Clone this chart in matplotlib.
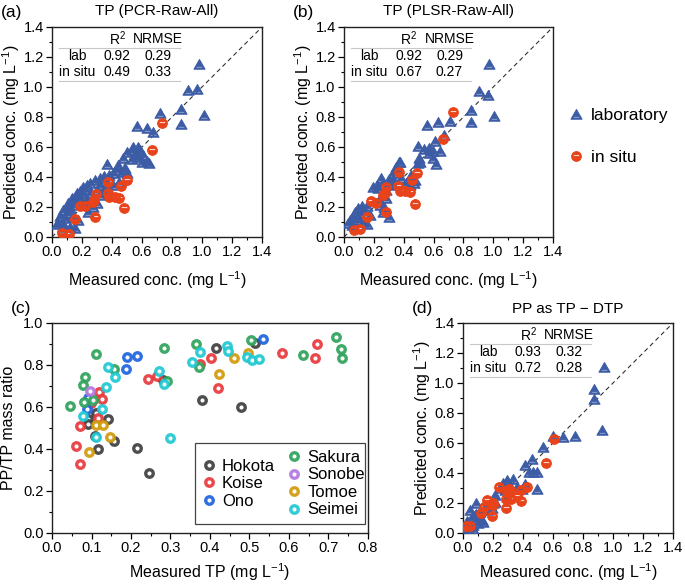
import matplotlib
matplotlib.use("Agg")
import matplotlib.pyplot as plt
from matplotlib.path import Path
from matplotlib.lines import Line2D
from matplotlib.patches import Rectangle
import numpy as np

plt.rcParams['font.family'] = ['Liberation Sans', 'DejaVu Sans']
plt.rcParams['mathtext.fontset'] = 'custom'
plt.rcParams['mathtext.rm'] = 'Liberation Sans'
plt.rcParams['mathtext.it'] = 'Liberation Sans:italic'
plt.rcParams['mathtext.bf'] = 'Liberation Sans:bold'

# ---------------- data ----------------
a_lab_x = [0.982, 0.909, 0.964, 0.858, 1.013, 0.858, 0.72, 0.564, 0.636, 0.671,
           0.498, 0.542, 0.571, 0.587, 0.553, 0.609, 0.631, 0.647, 0.598, 0.564,
           0.531, 0.487, 0.498, 0.464, 0.438, 0.409, 0.369, 0.382, 0.349, 0.32,
           0.287, 0.253, 0.236, 0.209, 0.187, 0.164, 0.153, 0.131, 0.109, 0.098,
           0.076, 0.053, 0.042, 0.036, 0.076, 0.12, 0.153, 0.242, 0.276, 0.298,
           0.32, 0.364, 0.409, 0.449, 0.342, 0.298, 0.253, 0.231, 0.187, 0.142,
           0.12, 0.098, 0.131, 0.176, 0.209, 0.364, 0.32, 0.209, 0.164, 0.087,
           0.064, 0.431, 0.476, 0.531, 0.573]
a_lab_y = [1.151, 0.98, 0.984, 0.851, 0.813, 0.751, 0.829, 0.74, 0.729, 0.702,
           0.569, 0.602, 0.602, 0.58, 0.553, 0.547, 0.509, 0.491, 0.502, 0.536,
           0.518, 0.458, 0.424, 0.436, 0.48, 0.424, 0.484, 0.413, 0.407, 0.391,
           0.38, 0.362, 0.344, 0.336, 0.309, 0.296, 0.269, 0.258, 0.224, 0.202,
           0.18, 0.14, 0.102, 0.087, 0.069, 0.069, 0.062, 0.164, 0.202, 0.224,
           0.28, 0.336, 0.347, 0.369, 0.302, 0.313, 0.291, 0.247, 0.258, 0.213,
           0.191, 0.158, 0.136, 0.113, 0.224, 0.358, 0.347, 0.291, 0.247, 0.124,
           0.102, 0.447, 0.524, 0.58, 0.547]
a_situ_x = [0.069, 0.113, 0.155, 0.187, 0.218, 0.284, 0.271, 0.282, 0.29, 0.371,
            0.371, 0.382, 0.418, 0.445, 0.46, 0.498, 0.48, 0.664, 0.736]
a_situ_y = [0.025, 0.02, 0.12, 0.208, 0.208, 0.133, 0.235, 0.247, 0.287, 0.369,
            0.295, 0.269, 0.265, 0.26, 0.34, 0.38, 0.191, 0.583, 0.762]

b_lab_x = [0.973, 0.907, 0.962, 0.851, 1.007, 0.851, 0.558, 0.629, 0.713, 0.669,
           0.607, 0.496, 0.536, 0.567, 0.596, 0.64, 0.567, 0.596, 0.613, 0.502,
           0.496, 0.367, 0.347, 0.302, 0.329, 0.251, 0.218, 0.196, 0.229, 0.284,
           0.258, 0.296, 0.329, 0.262, 0.284, 0.233, 0.238, 0.271, 0.258, 0.302,
           0.151, 0.118, 0.096, 0.073, 0.129, 0.107, 0.062, 0.04, 0.029, 0.051,
           0.084, 0.129, 0.151, 0.173, 0.096, 0.507, 0.418, 0.384, 0.451, 0.44,
           0.473, 0.469, 0.373, 0.351, 0.329]
b_lab_y = [1.156, 0.976, 0.947, 0.847, 0.807, 0.764, 0.747, 0.764, 0.776, 0.68,
           0.642, 0.607, 0.584, 0.596, 0.576, 0.576, 0.558, 0.524, 0.484, 0.524,
           0.491, 0.502, 0.469, 0.384, 0.384, 0.391, 0.347, 0.336, 0.324, 0.313,
           0.358, 0.353, 0.347, 0.28, 0.258, 0.247, 0.213, 0.202, 0.169, 0.131,
           0.207, 0.207, 0.191, 0.169, 0.18, 0.158, 0.136, 0.113, 0.091, 0.08,
           0.113, 0.102, 0.087, 0.147, 0.136, 0.502, 0.358, 0.391, 0.413, 0.347,
           0.38, 0.362, 0.502, 0.458, 0.424]
b_situ_x = [0.067, 0.107, 0.151, 0.182, 0.212, 0.279, 0.258, 0.273, 0.282, 0.368,
            0.365, 0.373, 0.409, 0.44, 0.455, 0.491, 0.473, 0.66, 0.727]
b_situ_y = [0.049, 0.055, 0.136, 0.24, 0.23, 0.169, 0.28, 0.291, 0.333, 0.436,
            0.338, 0.305, 0.307, 0.3, 0.378, 0.43, 0.222, 0.652, 0.836]

d_lab_x = [0.94, 0.876, 0.876, 0.929, 0.602, 0.669, 0.747, 0.536, 0.458, 0.413,
           0.44, 0.464, 0.496, 0.491, 0.413, 0.291, 0.33, 0.307, 0.28, 0.291,
           0.391, 0.247, 0.213, 0.202, 0.191, 0.087, 0.047, 0.058, 0.085, 0.124,
           0.024, 0.069, 0.036, 0.113, 0.147, 0.169, 0.269, 0.358, 0.102, 0.01,
           0.08, 0.136, 0.047, 0.069, 0.213]
d_lab_y = [1.109, 0.958, 0.891, 0.687, 0.649, 0.642, 0.649, 0.571, 0.495, 0.453,
           0.407, 0.409, 0.409, 0.293, 0.324, 0.353, 0.362, 0.32, 0.287, 0.242,
           0.291, 0.298, 0.253, 0.2, 0.164, 0.2, 0.155, 0.109, 0.125, 0.087,
           0.08, 0.053, 0.031, 0.142, 0.176, 0.153, 0.331, 0.309, 0.064, 0.02,
           0.12, 0.076, 0.047, 0.024, 0.209]
d_situ_x = [0.609, 0.553, 0.424, 0.384, 0.387, 0.362, 0.32, 0.291, 0.287, 0.32,
            0.287, 0.242, 0.202, 0.196, 0.158, 0.142, 0.118, 0.047, 0.018, 0.309,
            0.197]
d_situ_y = [0.624, 0.469, 0.309, 0.287, 0.212, 0.247, 0.28, 0.276, 0.227, 0.224,
            0.169, 0.307, 0.202, 0.116, 0.22, 0.176, 0.136, 0.049, 0.049, 0.291,
            0.185]

stats_a = [["lab", "0.92", "0.29"], ["in situ", "0.49", "0.33"]]
stats_b = [["lab", "0.92", "0.29"], ["in situ", "0.67", "0.27"]]
stats_d = [["lab", "0.93", "0.32"], ["in situ", "0.72", "0.28"]]

sites = ["Hokota", "Koise", "Ono", "Sakura", "Sonobe", "Tomoe", "Seimei"]
site_colors = ["#3f3f3f", "#e8383d", "#1e63de", "#2ea35a", "#b377e0", "#d19a0a", "#1fc8d2"]
c_x = {
    "Hokota": [0.246, 0.216, 0.156, 0.117, 0.109, 0.092, 0.09, 0.111, 0.143, 0.381, 0.414, 0.478, 0.282, 0.515],
    "Koise": [0.061, 0.071, 0.071, 0.118, 0.127, 0.116, 0.098, 0.242, 0.267, 0.375, 0.403, 0.419, 0.582, 0.666, 0.67],
    "Ono": [0.191, 0.216, 0.187, 0.089, 0.09, 0.535],
    "Sakura": [0.045, 0.111, 0.084, 0.079, 0.082, 0.103, 0.158, 0.283, 0.29, 0.365, 0.373, 0.503, 0.636, 0.718, 0.732, 0.733],
    "Sonobe": [0.096],
    "Tomoe": [0.093, 0.111, 0.128, 0.147, 0.424, 0.462, 0.497],
    "Seimei": [0.078, 0.112, 0.126, 0.137, 0.143, 0.159, 0.272, 0.284, 0.299, 0.354, 0.374, 0.443, 0.446, 0.494, 0.506, 0.523],
}
c_y = {
    "Hokota": [0.287, 0.407, 0.437, 0.4, 0.463, 0.545, 0.518, 0.57, 0.542, 0.634, 0.883, 0.602, 0.727, 0.903],
    "Koise": [0.414, 0.329, 0.51, 0.673, 0.636, 0.549, 0.617, 0.735, 0.748, 0.805, 0.835, 0.692, 0.856, 0.832, 0.9],
    "Ono": [0.84, 0.843, 0.78, 0.592, 0.641, 0.922],
    "Sakura": [0.605, 0.852, 0.741, 0.706, 0.625, 0.635, 0.781, 0.879, 0.723, 0.898, 0.79, 0.917, 0.848, 0.935, 0.876, 0.832],
    "Sonobe": [0.677],
    "Tomoe": [0.384, 0.514, 0.514, 0.456, 0.757, 0.832, 0.859],
    "Seimei": [0.558, 0.456, 0.589, 0.697, 0.789, 0.741, 0.771, 0.708, 0.451, 0.815, 0.862, 0.892, 0.867, 0.838, 0.822, 0.829],
}

# ---------------- styles ----------------
BLUE = "#3d5ca6"
RED = "#e8431a"

tri = Path([(-1, -0.85), (1, -0.85), (0, 0.9), (-1, -0.85)],
           [Path.MOVETO, Path.LINETO, Path.LINETO, Path.CLOSEPOLY])
tri_hole = Path([(-0.6, -0.66), (-0.6, -0.42), (0.6, -0.42), (0.6, -0.66), (-0.6, -0.66)],
                [Path.MOVETO, Path.LINETO, Path.LINETO, Path.LINETO, Path.CLOSEPOLY])
TRI_MARK = Path.make_compound_path(tri, tri_hole)
circ = Path.unit_circle()
circ_hole = Path([(-0.68, 0.05), (-0.68, 0.42), (0.68, 0.42), (0.68, 0.05), (-0.68, 0.05)],
                 [Path.MOVETO, Path.LINETO, Path.LINETO, Path.LINETO, Path.CLOSEPOLY])
CIRC_MARK = Path.make_compound_path(circ, circ_hole)

W, H = 685, 584
fig = plt.figure(figsize=(W / 100, H / 100), dpi=100)


def ax_at(l, t, w, h):
    return fig.add_axes([l / W, (H - t - h) / H, w / W, h / H])


def style_axes(ax, xmaj, xmin, ymaj, ymin):
    ax.set_xticks(xmaj)
    ax.set_xticks(xmin, minor=True)
    ax.set_yticks(ymaj)
    ax.set_yticks(ymin, minor=True)
    ax.tick_params(which='major', direction='out', length=4, width=0.9, labelsize=10.5, pad=2)
    ax.tick_params(which='minor', direction='out', length=2.2, width=0.8)
    for s in ax.spines.values():
        s.set_linewidth(1.0)
        s.set_color('#222222')


def draw_stats(ax, rows):
    xs = [0.12, 0.31, 0.505]
    fs = 10
    ax.text(xs[1], 0.943, "R$^2$", transform=ax.transAxes, ha='center', va='center', fontsize=fs)
    ax.text(xs[2], 0.943, "NRMSE", transform=ax.transAxes, ha='center', va='center', fontsize=fs)
    for i, r in enumerate(rows):
        yy = 0.862 - i * 0.078
        for j in range(3):
            ax.text(xs[j], yy, r[j], transform=ax.transAxes, ha='center', va='center', fontsize=fs)
    for yl in (0.902, 0.742):
        ax.plot([0.033, 0.61], [yl, yl], transform=ax.transAxes, color='#c8c8c8', lw=0.8)


def scatter_panel(ax, lx, ly, sx, sy, rows, title, label, tpad=9, xpad=7):
    ax.plot([0, 1.4], [0, 1.4], ls=(0, (4, 3)), color='#333333', lw=0.8, zorder=1)
    ax.plot(lx, ly, ls='none', marker=TRI_MARK, ms=8, mfc=BLUE, mec=BLUE, mew=0.7, zorder=3)
    ax.plot(sx, sy, ls='none', marker=CIRC_MARK, ms=7, mfc=RED, mec=RED, mew=0.7, zorder=4)
    ax.set_xlim(0, 1.4)
    ax.set_ylim(0, 1.4)
    t = np.round(np.arange(0, 1.41, 0.2), 1)
    tm = np.round(np.arange(0.1, 1.4, 0.2), 1)
    style_axes(ax, t, tm, t, tm)
    ax.set_xlabel("Measured conc. (mg L$^{-1}$)", fontsize=11.5, labelpad=xpad)
    ax.set_ylabel("Predicted conc. (mg L$^{-1}$)", fontsize=11.5, labelpad=1)
    ax.set_title(title, fontsize=11, pad=tpad)
    draw_stats(ax, rows)
    ax.text(-0.245, 1.07, label, transform=ax.transAxes, fontsize=12.5, ha='left', va='center')


ax_a = ax_at(52, 27, 210, 210)
scatter_panel(ax_a, a_lab_x, a_lab_y, a_situ_x, a_situ_y, stats_a, "TP (PCR-Raw-All)", "(a)")
ax_b = ax_at(344, 27, 209, 210)
scatter_panel(ax_b, b_lab_x, b_lab_y, b_situ_x, b_situ_y, stats_b, "TP (PLSR-Raw-All)", "(b)")
ax_d = ax_at(463, 323, 210, 210)
scatter_panel(ax_d, d_lab_x, d_lab_y, d_situ_x, d_situ_y, stats_d, "PP as TP \u2212 DTP", "(d)",
              tpad=7, xpad=4.5)

# legend for a/b
h1 = Line2D([], [], ls='none', marker=TRI_MARK, ms=8, mfc=BLUE, mec=BLUE, mew=0.7)
h2 = Line2D([], [], ls='none', marker=CIRC_MARK, ms=7, mfc=RED, mec=RED, mew=0.7)
fig.legend([h1, h2], ["laboratory", "in situ"], loc='upper left',
           bbox_to_anchor=(555 / W, 1 - 96 / H), frameon=False, fontsize=12.5,
           labelspacing=1.55, handletextpad=0.35, handlelength=1.0, borderpad=0.2)

# panel c
ax_c = ax_at(52, 323, 316, 210)
handles = {}
for s, col in zip(sites, site_colors):
    ln, = ax_c.plot(c_x[s], c_y[s], ls='none', marker='o', ms=5.4, mfc='white', mec=col,
                    mew=2.4, alpha=0.92, label=s, zorder=3)
    handles[s] = ln
ax_c.set_xlim(0, 0.8)
ax_c.set_ylim(0, 1.0)
style_axes(ax_c, np.round(np.arange(0, 0.81, 0.1), 1), np.round(np.arange(0.05, 0.8, 0.1), 2),
           np.round(np.arange(0, 1.01, 0.2), 1), np.round(np.arange(0.1, 1.0, 0.2), 1))
ax_c.set_xlabel("Measured TP (mg L$^{-1}$)", fontsize=11.5, labelpad=4.5)
ax_c.set_ylabel("PP/TP mass ratio", fontsize=11.5, labelpad=5)
ax_c.text(-0.13, 1.07, "(c)", transform=ax_c.transAxes, fontsize=12.5, ha='left', va='center')

frame = Rectangle((0.452, 0.043), 0.538, 0.387, transform=ax_c.transAxes, facecolor='white',
                  edgecolor='#444444', lw=0.9, zorder=5)
ax_c.add_patch(frame)
leg_kw = dict(frameon=False, fontsize=12, labelspacing=0.15, handletextpad=0.4,
              handlelength=0.8, borderpad=0.0, borderaxespad=0.0)
col1 = sites[:3]
col2 = sites[3:]
leg1 = ax_c.legend([handles[s] for s in col1], col1, loc='upper left',
                   bbox_to_anchor=(0.475, 0.354), **leg_kw)
leg1.set_zorder(6)
ax_c.add_artist(leg1)
leg2 = ax_c.legend([handles[s] for s in col2], col2, loc='upper left',
                   bbox_to_anchor=(0.745, 0.396), **leg_kw)
leg2.set_zorder(6)

fig.savefig("out.png", dpi=100)
